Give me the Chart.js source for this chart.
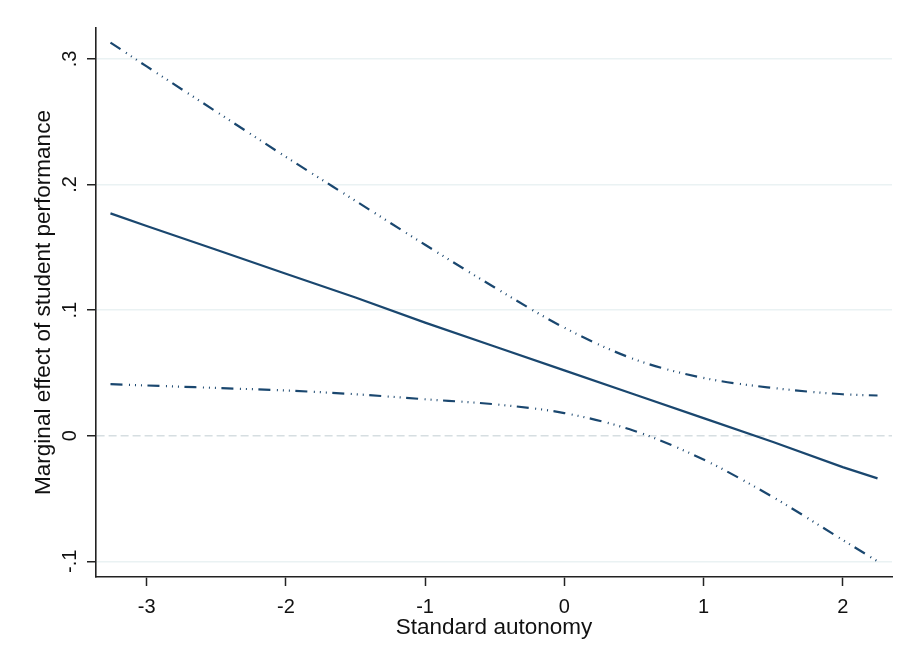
<!DOCTYPE html>
<html><head><meta charset="utf-8">
<script src="https://cdn.jsdelivr.net/npm/chart.js@4.4.0/dist/chart.umd.min.js"></script>
<style>html,body{margin:0;padding:0;background:#fff;}</style>
</head><body>
<canvas id="c" width="905" height="662"></canvas>
<script>
// ---- data ----
const autonomy       = [-3.26, -3, -2.5, -2, -1.5, -1, -0.5, 0, 0.5, 1, 1.5, 2, 2.25];
const marginalEffect = [0.177, 0.167, 0.148, 0.129, 0.110, 0.090, 0.071, 0.052, 0.033, 0.014, -0.005, -0.025, -0.034];
const upperBound     = [0.313, 0.294, 0.258, 0.222, 0.187, 0.152, 0.118, 0.086, 0.061, 0.046, 0.038, 0.033, 0.032];
const lowerBound     = [0.041, 0.040, 0.038, 0.036, 0.033, 0.029, 0.025, 0.018, 0.004, -0.019, -0.049, -0.083, -0.100];
const xTickValues = [-3, -2, -1, 0, 1, 2];
const xTickLabels = ['-3', '-2', '-1', '0', '1', '2'];
const yTickValues = [-0.1, 0, 0.1, 0.2, 0.3];
const yTickLabels = ['-.1', '0', '.1', '.2', '.3'];
const xTitle = 'Standard autonomy';
const yTitle = 'Marginal effect of student performance';

const navy = '#1a476f';
const ciDash = [12, 6.5, 1, 5, 1, 5, 1, 5.5];
const toXY = (ys) => ys.map((y, i) => ({x: autonomy[i], y}));
const font = '"Liberation Sans", Arial, Helvetica, sans-serif';

new Chart(document.getElementById('c'), {
  type: 'line',
  data: {
    datasets: [
      {data: toXY(upperBound), borderColor: navy, borderWidth: 2.2, borderDash: ciDash, borderCapStyle: 'butt', pointRadius: 0, cubicInterpolationMode: 'monotone', fill: false},
      {data: toXY(marginalEffect), borderColor: navy, borderWidth: 2.2, pointRadius: 0, fill: false},
      {data: toXY(lowerBound), borderColor: navy, borderWidth: 2.2, borderDash: ciDash, borderCapStyle: 'butt', pointRadius: 0, cubicInterpolationMode: 'monotone', fill: false}
    ]
  },
  options: {
    responsive: false,
    animation: false,
    layout: {padding: {left: 0, right: 13, top: 28, bottom: 0}},
    plugins: {legend: {display: false}, tooltip: {enabled: false}},
    scales: {
      x: {
        type: 'linear', min: -3.364, max: 2.354,
        afterFit: (s) => { s.height = 85; },
        afterBuildTicks: (s) => { s.ticks = xTickValues.map(v => ({value: v})); },
        ticks: {
          autoSkip: false, maxRotation: 0, minRotation: 0, padding: 9.7,
          color: '#111', font: {family: font, size: 20},
          callback: (v) => xTickLabels[xTickValues.indexOf(v)]
        },
        grid: {drawOnChartArea: false, drawTicks: true, tickLength: 9, tickColor: '#222', tickWidth: 1.5},
        border: {display: true, color: '#222', width: 1.6},
        title: {display: true, text: xTitle, color: '#111', font: {family: font, size: 22.5}, padding: {top: 0, bottom: 21.2}}
      },
      y: {
        type: 'linear', min: -0.1125, max: 0.3246,
        afterFit: (s) => { s.width = 96; },
        afterBuildTicks: (s) => { s.ticks = yTickValues.map(v => ({value: v})); },
        ticks: {
          autoSkip: false, minRotation: 90, maxRotation: 90, crossAlign: 'center', padding: 5.3,
          color: '#111', font: {family: font, size: 20},
          callback: (v) => yTickLabels[yTickValues.indexOf(v)]
        },
        grid: {
          drawOnChartArea: true, drawTicks: true, tickLength: 9, tickColor: '#222', tickWidth: 1.5,
          lineWidth: 1.5,
          color: (ctx) => (ctx.tick && ctx.tick.value === 0) ? '#d6dee1' : '#eaf2f3'
        },
        border: {
          display: true, color: '#222', width: 1.6,
          dash: (ctx) => (ctx.tick && ctx.tick.value === 0) ? [8, 4] : []
        },
        title: {display: true, text: yTitle, color: '#111', font: {family: font, size: 22.5}, padding: {top: 30.7, bottom: 0}}
      }
    }
  }
});
</script>
</body></html>
